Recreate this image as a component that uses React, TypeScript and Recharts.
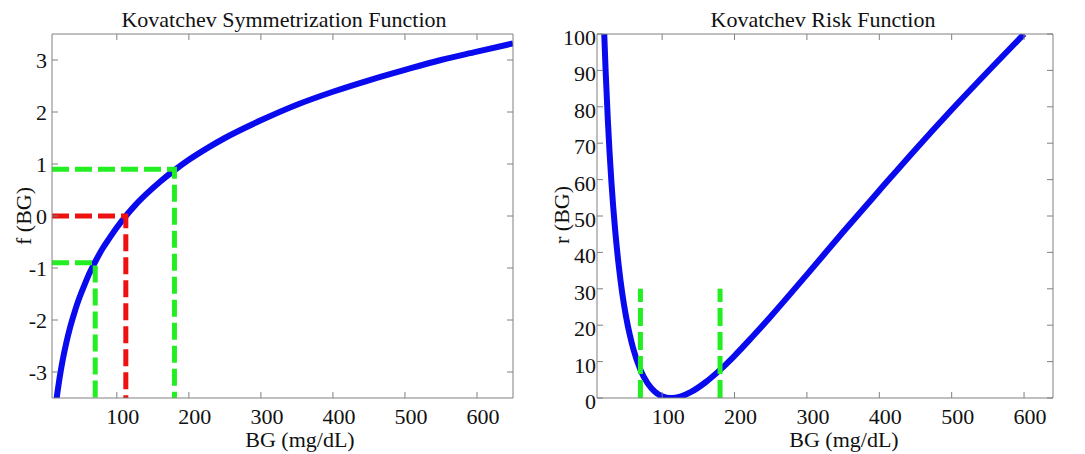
import React from 'react';
import { LineChart, Line, XAxis, YAxis } from 'recharts';

// blood glucose samples (mg/dL) and the values
const bgValues = [16, 17, 18, 20, 22, 25, 30, 35, 40, 45, 50, 55, 60, 70, 80, 90, 100, 112.5, 125, 140, 160, 180, 200, 225, 250, 300, 350, 400, 450, 500, 550, 600, 650];
const symValues = [-3.56, -3.45, -3.35, -3.16, -2.99, -2.76, -2.43, -2.15, -1.91, -1.69, -1.5, -1.33, -1.16, -0.88, -0.63, -0.42, -0.22, 0, 0.2, 0.41, 0.66, 0.88, 1.08, 1.3, 1.5, 1.84, 2.14, 2.39, 2.61, 2.81, 3.0, 3.16, 3.32];
const riskValues = [126.9, 119.3, 112.3, 100, 89.5, 76.3, 59.1, 46.3, 36.4, 28.6, 22.5, 17.6, 13.6, 7.75, 4.01, 1.73, 0.48, 0, 0.39, 1.67, 4.33, 7.73, 11.6, 16.9, 22.4, 33.9, 45.6, 57.0, 68.3, 79.2, 89.7, 100];

const xTicks = [100, 200, 300, 400, 500, 600];
const fTicks = [-3, -2, -1, 0, 1, 2, 3];
const rTicks = [0, 10, 20, 30, 40, 50, 60, 70, 80, 90, 100];

// threshold guides
const hypoBG = 70;
const hyperBG = 180;
const targetBG = 112.5;
const hypoF = -0.9;
const hyperF = 0.9;
const riskGuideTop = 30;

const symData = bgValues.map((bg, i) => ({ bg, f: symValues[i] }));
const riskData = bgValues.slice(2, 32).map((bg, i) => ({ bg, r: riskValues[i + 2] }));

const hypoGuide = [{ bg: 10, f: hypoF }, { bg: hypoBG, f: hypoF }, { bg: hypoBG, f: -3.5 }];
const hyperGuide = [{ bg: 10, f: hyperF }, { bg: hyperBG, f: hyperF }, { bg: hyperBG, f: -3.5 }];
const targetGuide = [{ bg: 10, f: 0 }, { bg: targetBG, f: 0 }, { bg: targetBG, f: -3.5 }];
const riskHypo = [{ bg: hypoBG, r: 0 }, { bg: hypoBG, r: riskGuideTop }];
const riskHyper = [{ bg: hyperBG, r: 0 }, { bg: hyperBG, r: riskGuideTop }];

const FONT = '"Liberation Serif", "Times New Roman", serif';
const AXIS = '#808080';
const BLUE = '#0a0aee';
const GREEN = '#22ee22';
const RED = '#ee1111';
const FS = 22;

const BottomTick = ({ x, y, payload }: any) => (
  <g>
    <line x1={x} x2={x} y1={y} y2={y - 6} stroke={AXIS} />
    <text x={x + 6} y={y + 26} textAnchor="middle" fontSize={FS} fontFamily={FONT} fill="#111">
      {payload.value}
    </text>
  </g>
);

const TopTick = ({ x, y }: any) => <line x1={x} x2={x} y1={y} y2={y + 6} stroke={AXIS} />;
const RightTick = ({ x, y }: any) => <line x1={x} x2={x - 6} y1={y} y2={y} stroke={AXIS} />;

const leftTick = (gap: number, dy: number) => ({ x, y, payload }: any) => (
  <g>
    <line x1={x} x2={x + 6} y1={y} y2={y} stroke={AXIS} />
    <text x={x - gap} y={y + dy} textAnchor="end" fontSize={FS} fontFamily={FONT} fill="#111">
      {payload.value}
    </text>
  </g>
);

export default function App() {
  return (
    <div style={{ position: 'absolute', left: 0, top: 0, width: 1085, height: 454, background: '#fff' }}>
      <div style={{ position: 'absolute', left: 0, top: 0 }}>
        <LineChart width={545} height={454} margin={{ top: 33, right: 31, left: 0, bottom: 0 }}>
          <XAxis type="number" dataKey="bg" domain={[10, 650]} ticks={xTicks} height={56} allowDataOverflow
            stroke={AXIS} tickLine={false} tickSize={0} tickMargin={0} tick={BottomTick} />
          <XAxis xAxisId="top" orientation="top" type="number" dataKey="bg" domain={[10, 650]} ticks={xTicks} height={1} allowDataOverflow
            stroke={AXIS} tickLine={false} tickSize={0} tickMargin={0} tick={TopTick} />
          <YAxis type="number" domain={[-3.5, 3.5]} ticks={fTicks} width={52} allowDataOverflow
            stroke={AXIS} tickLine={false} tickSize={0} tickMargin={0} tick={leftTick(5, 8)} />
          <YAxis yAxisId="right" orientation="right" type="number" domain={[-3.5, 3.5]} ticks={fTicks} width={1} allowDataOverflow
            stroke={AXIS} tickLine={false} tickSize={0} tickMargin={0} tick={RightTick} />
          <Line xAxisId="top" yAxisId="right" data={symData} dataKey="f" stroke="none" dot={false} isAnimationActive={false} />
          <Line data={symData} dataKey="f" type="monotone" stroke={BLUE} strokeWidth={6} dot={false} isAnimationActive={false} />
          <Line data={hypoGuide} dataKey="f" type="linear" stroke={GREEN} strokeWidth={5} strokeDasharray="17 6" dot={false} isAnimationActive={false} />
          <Line data={hyperGuide} dataKey="f" type="linear" stroke={GREEN} strokeWidth={5} strokeDasharray="17 6" dot={false} isAnimationActive={false} />
          <Line data={targetGuide} dataKey="f" type="linear" stroke={RED} strokeWidth={5} strokeDasharray="17 6" dot={false} isAnimationActive={false} />
        </LineChart>
      </div>
      <div style={{ position: 'absolute', left: 545, top: 0 }}>
        <LineChart width={540} height={454} margin={{ top: 33, right: 31, left: 0, bottom: 0 }}>
          <XAxis type="number" dataKey="bg" domain={[10, 640]} ticks={xTicks} height={56} allowDataOverflow
            stroke={AXIS} tickLine={false} tickSize={0} tickMargin={0} tick={BottomTick} />
          <XAxis xAxisId="top" orientation="top" type="number" dataKey="bg" domain={[10, 640]} ticks={xTicks} height={1} allowDataOverflow
            stroke={AXIS} tickLine={false} tickSize={0} tickMargin={0} tick={TopTick} />
          <YAxis type="number" domain={[0, 100]} ticks={rTicks} width={52} allowDataOverflow
            stroke={AXIS} tickLine={false} tickSize={0} tickMargin={0} tick={leftTick(1, 11)} />
          <YAxis yAxisId="right" orientation="right" type="number" domain={[0, 100]} ticks={rTicks} width={1} allowDataOverflow
            stroke={AXIS} tickLine={false} tickSize={0} tickMargin={0} tick={RightTick} />
          <Line xAxisId="top" yAxisId="right" data={riskData} dataKey="r" stroke="none" dot={false} isAnimationActive={false} />
          <Line data={riskData} dataKey="r" type="monotone" stroke={BLUE} strokeWidth={6} dot={false} isAnimationActive={false} />
          <Line data={riskHypo} dataKey="r" type="linear" stroke={GREEN} strokeWidth={5} strokeDasharray="18 6" dot={false} isAnimationActive={false} />
          <Line data={riskHyper} dataKey="r" type="linear" stroke={GREEN} strokeWidth={5} strokeDasharray="18 6" dot={false} isAnimationActive={false} />
        </LineChart>
      </div>
      <svg width={1085} height={454} style={{ position: 'absolute', left: 0, top: 0, pointerEvents: 'none' }}>
        <g fontFamily={FONT} fontSize={FS} fill="#111">
          <text x={284} y={27} textAnchor="middle">Kovatchev Symmetrization Function</text>
          <text x={823} y={27} textAnchor="middle">Kovatchev Risk Function</text>
          <text x={300} y={447} textAnchor="middle">BG (mg/dL)</text>
          <text x={844} y={447} textAnchor="middle">BG (mg/dL)</text>
          <text transform="translate(31,216) rotate(-90)" textAnchor="middle">f (BG)</text>
          <text transform="translate(569,215) rotate(-90)" textAnchor="middle">r (BG)</text>
        </g>
      </svg>
    </div>
  );
}
